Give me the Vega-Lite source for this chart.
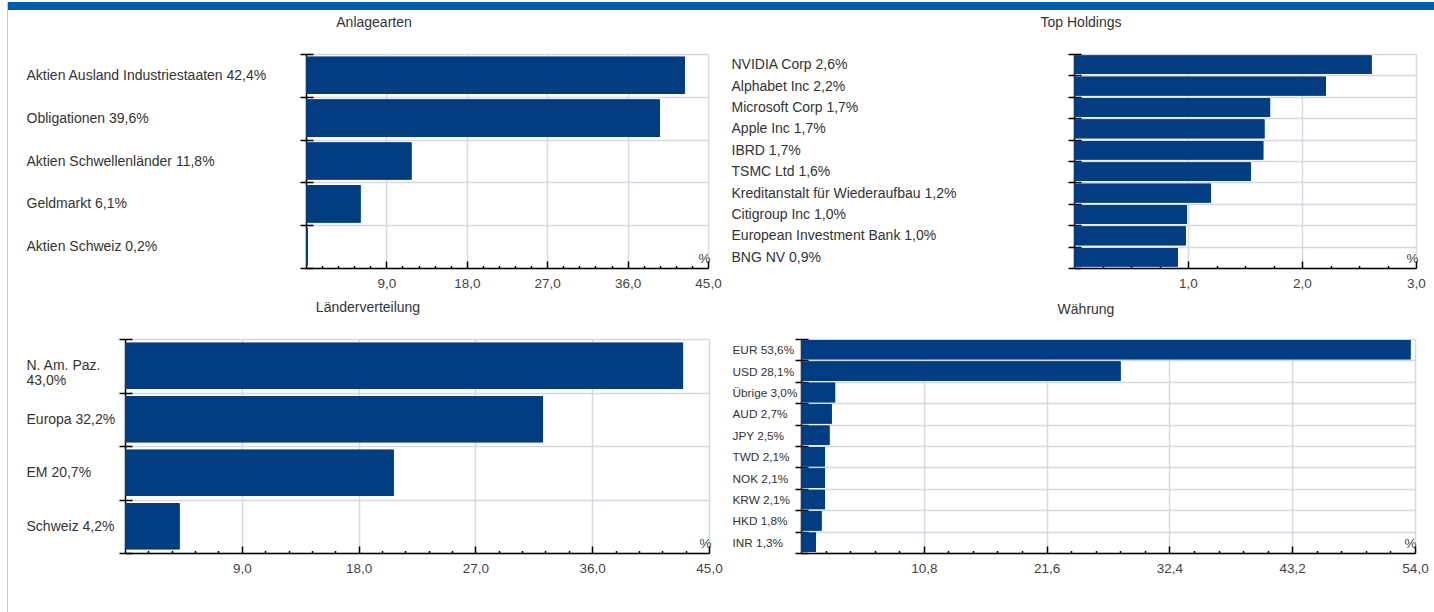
{
  "$schema": "https://vega.github.io/schema/vega-lite/v6.json",
  "padding": {"left": 7, "top": 0, "right": 0, "bottom": 0},
  "background": "#ffffff",
  "spacing": 0.001,
  "datasets": {
    "anlage": [
      {"label": "Aktien Ausland Industriestaaten 42,4%", "value": 42.4},
      {"label": "Obligationen 39,6%", "value": 39.6},
      {"label": "Aktien Schwellenländer 11,8%", "value": 11.8},
      {"label": "Geldmarkt 6,1%", "value": 6.1},
      {"label": "Aktien Schweiz 0,2%", "value": 0.2}
    ],
    "holdings": [
      {"label": "NVIDIA Corp 2,6%", "value": 2.61},
      {"label": "Alphabet Inc 2,2%", "value": 2.21},
      {"label": "Microsoft Corp 1,7%", "value": 1.72},
      {"label": "Apple Inc 1,7%", "value": 1.67},
      {"label": "IBRD 1,7%", "value": 1.66},
      {"label": "TSMC Ltd 1,6%", "value": 1.55},
      {"label": "Kreditanstalt für Wiederaufbau 1,2%", "value": 1.2},
      {"label": "Citigroup Inc 1,0%", "value": 0.99},
      {"label": "European Investment Bank 1,0%", "value": 0.98},
      {"label": "BNG NV 0,9%", "value": 0.91}
    ],
    "laender": [
      {"label": "N. Am. Paz.\n43,0%", "value": 43.0},
      {"label": "Europa 32,2%", "value": 32.2},
      {"label": "EM 20,7%", "value": 20.7},
      {"label": "Schweiz 4,2%", "value": 4.2}
    ],
    "waehrung": [
      {"label": "EUR 53,6%", "value": 53.6},
      {"label": "USD 28,1%", "value": 28.1},
      {"label": "Übrige 3,0%", "value": 3.0},
      {"label": "AUD 2,7%", "value": 2.7},
      {"label": "JPY 2,5%", "value": 2.5},
      {"label": "TWD 2,1%", "value": 2.1},
      {"label": "NOK 2,1%", "value": 2.1},
      {"label": "KRW 2,1%", "value": 2.1},
      {"label": "HKD 1,8%", "value": 1.8},
      {"label": "INR 1,3%", "value": 1.3}
    ]
  },
  "hconcat": [
    {
      "width": 1, "height": 611,
      "view": {"fill": "#c9c9c9", "stroke": null},
      "data": {"values": [{}]},
      "mark": {"type": "text"},
      "encoding": {"text": {"value": ""}}
    },
    {
      "spacing": 5,
      "vconcat": [
        {
          "width": 1426, "height": 8,
          "view": {"fill": "#005ca8", "stroke": null},
          "data": {"values": [{}]},
          "mark": {"type": "text"},
          "encoding": {"text": {"value": ""}}
        },
        {
          "spacing": 11,
          "vconcat": [
            {
              "spacing": 17,
              "hconcat": [
                {
                  "width": 1, "height": 1,
                  "data": {"values": [{}]},
                  "mark": {"type": "text"},
                  "encoding": {"text": {"value": ""}}
                },
                {
                  "spacing": 9,
                  "hconcat": [
                    {
                      "width": 402, "height": 214,
                      "title": {"text": "Anlagearten", "dx": -133},
                      "data": {"name": "anlage"},
                      "resolve": {"axis": {"x": "independent", "y": "independent"}},
                      "layer": [
                        {
                          "mark": {"type": "bar", "color": "#023d81", "height": {"band": 0.87}},
                          "encoding": {
                            "y": {"field": "label", "type": "nominal", "sort": null, "scale": {"paddingInner": 0, "paddingOuter": 0},
                              "axis": {"orient": "left", "title": null, "labelAlign": "left", "labelPadding": 274, "tickSize": 6, "labelFontSize": 14, "labelLimit": 600}},
                            "x": {"field": "value", "type": "quantitative", "scale": {"domain": [0, 45], "nice": false},
                              "axis": {"orient": "bottom", "values": [9, 18, 27, 36, 45], "grid": true, "tickSize": 0, "labelPadding": 8.5, "labelFlush": false,
                                "labelExpr": "replace(format(datum.value, '.1f'), '.', ',')",
                                "title": "%", "titleX": 398, "titleY": -10}}
                          }
                        },
                        {
                          "mark": {"type": "bar", "color": "#023d81", "height": {"band": 0.87}},
                          "encoding": {
                            "y": {"field": "label", "type": "nominal", "sort": null,
                              "axis": {"orient": "left", "title": null, "labels": false, "domain": false, "grid": false, "tickSize": -7}},
                            "x": {"field": "value", "type": "quantitative",
                              "axis": {"orient": "bottom", "title": null, "values": [9, 18, 27, 36, 45], "labels": false, "domain": false, "grid": false, "tickSize": -7}}
                          }
                        },
                        {
                          "mark": {"type": "bar", "color": "#023d81", "height": {"band": 0.87}},
                          "encoding": {
                            "y": {"field": "label", "type": "nominal", "sort": null, "axis": null},
                            "x": {"field": "value", "type": "quantitative",
                              "axis": {"orient": "bottom", "title": null, "values": [1.8, 3.6, 5.4, 7.2, 10.8, 12.6, 14.4, 16.2, 19.8, 21.6, 23.4, 25.2, 28.8, 30.6, 32.4, 34.2, 37.8, 39.6, 41.4, 43.2], "labels": false, "domain": false, "grid": false, "tickSize": -2.5}}
                          }
                        }
                      ]
                    },
                    {
                      "width": 342, "height": 214,
                      "title": {"text": "Top Holdings", "dx": -164},
                      "data": {"name": "holdings"},
                      "resolve": {"axis": {"x": "independent", "y": "independent"}},
                      "layer": [
                        {
                          "mark": {"type": "bar", "color": "#023d81", "height": {"band": 0.87}},
                          "encoding": {
                            "y": {"field": "label", "type": "nominal", "sort": null, "scale": {"paddingInner": 0, "paddingOuter": 0},
                              "axis": {"orient": "left", "title": null, "labelAlign": "left", "labelPadding": 337, "tickSize": 6, "labelFontSize": 14, "labelLimit": 600}},
                            "x": {"field": "value", "type": "quantitative", "scale": {"domain": [0, 3], "nice": false},
                              "axis": {"orient": "bottom", "values": [1, 2, 3], "grid": true, "tickSize": 0, "labelPadding": 8.5, "labelFlush": false,
                                "labelExpr": "replace(format(datum.value, '.1f'), '.', ',')",
                                "title": "%", "titleX": 338, "titleY": -10}}
                          }
                        },
                        {
                          "mark": {"type": "bar", "color": "#023d81", "height": {"band": 0.87}},
                          "encoding": {
                            "y": {"field": "label", "type": "nominal", "sort": null,
                              "axis": {"orient": "left", "title": null, "labels": false, "domain": false, "grid": false, "tickSize": -7}},
                            "x": {"field": "value", "type": "quantitative",
                              "axis": {"orient": "bottom", "title": null, "values": [1, 2, 3], "labels": false, "domain": false, "grid": false, "tickSize": -7}}
                          }
                        },
                        {
                          "mark": {"type": "bar", "color": "#023d81", "height": {"band": 0.87}},
                          "encoding": {
                            "y": {"field": "label", "type": "nominal", "sort": null, "axis": null},
                            "x": {"field": "value", "type": "quantitative",
                              "axis": {"orient": "bottom", "title": null, "values": [0.25, 0.5, 0.75, 1.25, 1.5, 1.75, 2.25, 2.5, 2.75], "labels": false, "domain": false, "grid": false, "tickSize": -2.5}}
                          }
                        }
                      ]
                    }
                  ]
                }
              ]
            },
            {
              "spacing": 17,
              "hconcat": [
                {
                  "width": 1, "height": 1,
                  "data": {"values": [{}]},
                  "mark": {"type": "text"},
                  "encoding": {"text": {"value": ""}}
                },
                {
                  "spacing": 9,
                  "hconcat": [
                    {
                      "width": 584, "height": 214,
                      "title": {"text": "Länderverteilung", "dx": -49},
                      "data": {"name": "laender"},
                      "resolve": {"axis": {"x": "independent", "y": "independent"}},
                      "layer": [
                        {
                          "mark": {"type": "bar", "color": "#023d81", "height": {"band": 0.86}},
                          "encoding": {
                            "y": {"field": "label", "type": "nominal", "sort": null, "scale": {"paddingInner": 0, "paddingOuter": 0},
                              "axis": {"orient": "left", "title": null, "labelAlign": "left", "labelPadding": 93, "tickSize": 6, "labelFontSize": 14, "labelLimit": 600, "labelLineHeight": 15,
                                "labelExpr": "split(datum.label, '\\n')"}},
                            "x": {"field": "value", "type": "quantitative", "scale": {"domain": [0, 45], "nice": false},
                              "axis": {"orient": "bottom", "values": [9, 18, 27, 36, 45], "grid": true, "tickSize": 0, "labelPadding": 8.5, "labelFlush": false,
                                "labelExpr": "replace(format(datum.value, '.1f'), '.', ',')",
                                "title": "%", "titleX": 580, "titleY": -10}}
                          }
                        },
                        {
                          "mark": {"type": "bar", "color": "#023d81", "height": {"band": 0.86}},
                          "encoding": {
                            "y": {"field": "label", "type": "nominal", "sort": null,
                              "axis": {"orient": "left", "title": null, "labels": false, "domain": false, "grid": false, "tickSize": -7}},
                            "x": {"field": "value", "type": "quantitative",
                              "axis": {"orient": "bottom", "title": null, "values": [9, 18, 27, 36, 45], "labels": false, "domain": false, "grid": false, "tickSize": -7}}
                          }
                        },
                        {
                          "mark": {"type": "bar", "color": "#023d81", "height": {"band": 0.86}},
                          "encoding": {
                            "y": {"field": "label", "type": "nominal", "sort": null, "axis": null},
                            "x": {"field": "value", "type": "quantitative",
                              "axis": {"orient": "bottom", "title": null, "values": [1.8, 3.6, 5.4, 7.2, 10.8, 12.6, 14.4, 16.2, 19.8, 21.6, 23.4, 25.2, 28.8, 30.6, 32.4, 34.2, 37.8, 39.6, 41.4, 43.2], "labels": false, "domain": false, "grid": false, "tickSize": -2.5}}
                          }
                        }
                      ]
                    },
                    {
                      "width": 614, "height": 214,
                      "title": {"text": "Währung", "dx": -22},
                      "data": {"name": "waehrung"},
                      "resolve": {"axis": {"x": "independent", "y": "independent"}},
                      "layer": [
                        {
                          "mark": {"type": "bar", "color": "#023d81", "height": {"band": 0.9}},
                          "encoding": {
                            "y": {"field": "label", "type": "nominal", "sort": null, "scale": {"paddingInner": 0, "paddingOuter": 0},
                              "axis": {"orient": "left", "title": null, "labelAlign": "left", "labelPadding": 63, "tickSize": 6, "labelFontSize": 11.8, "labelLimit": 600}},
                            "x": {"field": "value", "type": "quantitative", "scale": {"domain": [0, 54], "nice": false},
                              "axis": {"orient": "bottom", "values": [10.8, 21.6, 32.4, 43.2, 54], "grid": true, "tickSize": 0, "labelPadding": 8.5, "labelFlush": false,
                                "labelExpr": "replace(format(datum.value, '.1f'), '.', ',')",
                                "title": "%", "titleX": 609, "titleY": -10}}
                          }
                        },
                        {
                          "mark": {"type": "bar", "color": "#023d81", "height": {"band": 0.9}},
                          "encoding": {
                            "y": {"field": "label", "type": "nominal", "sort": null,
                              "axis": {"orient": "left", "title": null, "labels": false, "domain": false, "grid": false, "tickSize": -7}},
                            "x": {"field": "value", "type": "quantitative",
                              "axis": {"orient": "bottom", "title": null, "values": [10.8, 21.6, 32.4, 43.2, 54], "labels": false, "domain": false, "grid": false, "tickSize": -7}}
                          }
                        },
                        {
                          "mark": {"type": "bar", "color": "#023d81", "height": {"band": 0.9}},
                          "encoding": {
                            "y": {"field": "label", "type": "nominal", "sort": null, "axis": null},
                            "x": {"field": "value", "type": "quantitative",
                              "axis": {"orient": "bottom", "title": null, "values": [2.16, 4.32, 6.48, 8.64, 12.96, 15.12, 17.28, 19.44, 23.76, 25.92, 28.08, 30.24, 34.56, 36.72, 38.88, 41.04, 45.36, 47.52, 49.68, 51.84], "labels": false, "domain": false, "grid": false, "tickSize": -2.5}}
                          }
                        }
                      ]
                    }
                  ]
                }
              ]
            }
          ]
        }
      ]
    }
  ],
  "config": {
    "font": "Liberation Sans",
    "view": {"stroke": null},
    "title": {"fontSize": 14, "fontWeight": "normal", "color": "#333333", "anchor": "middle", "frame": "group", "offset": 17, "baseline": "bottom"},
    "axis": {
      "domainColor": "#000000", "domainWidth": 1.5,
      "tickColor": "#000000", "tickWidth": 1.5,
      "gridColor": "#d5d8e2", "gridWidth": 1.5,
      "labelColor": "#333333", "labelFontSize": 13.5, "labelFont": "Liberation Sans",
      "titleFontSize": 13.5, "titleFontWeight": "normal", "titleColor": "#444444", "titleFont": "Liberation Sans",
      "titleAlign": "center", "titleBaseline": "middle", "titleAnchor": null
    },
    "axisY": {"tickBand": "extent", "grid": true, "tickExtra": false},
    "axisX": {"labelColor": "#444444"}
  }
}
